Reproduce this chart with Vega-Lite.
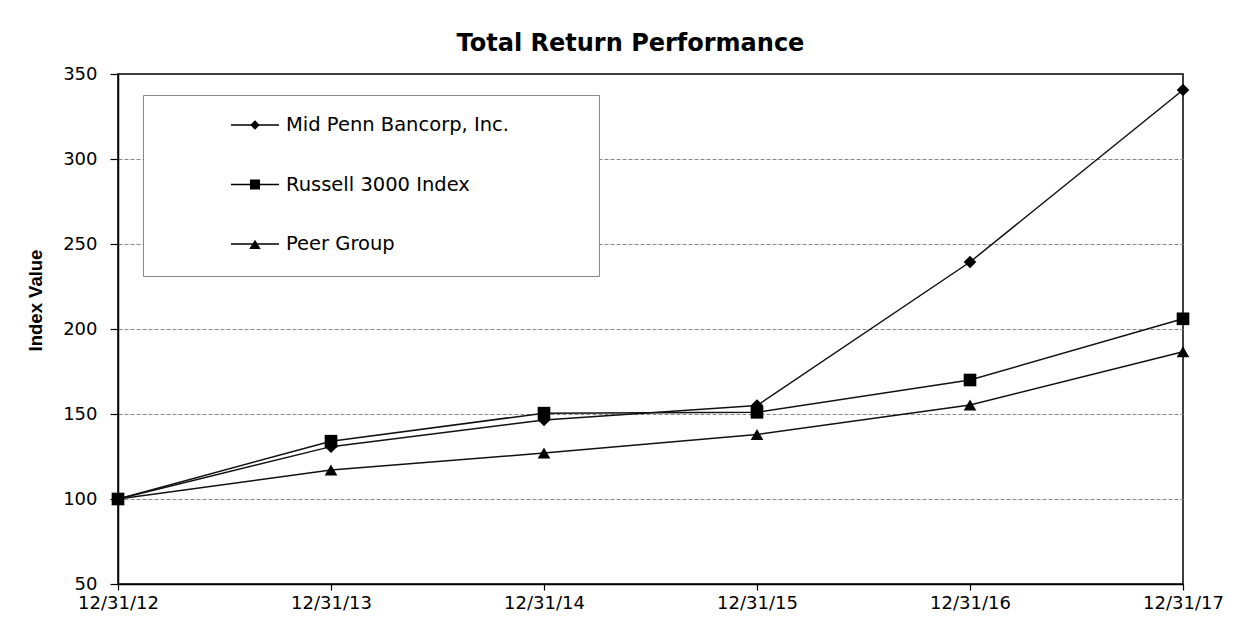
{
  "$schema": "https://vega.github.io/schema/vega-lite/v6.json",
  "autosize": "none",
  "width": 1065,
  "height": 510,
  "padding": {"left": 118, "top": 74, "right": 63, "bottom": 54},
  "background": "white",
  "title": {
    "text": "Total Return Performance",
    "font": "DejaVu Sans",
    "fontSize": 24,
    "fontWeight": "bold",
    "color": "#000",
    "anchor": "middle",
    "baseline": "alphabetic",
    "offset": 22,
    "dx": -20,
    "dy": 32
  },
  "config": {
    "view": {"stroke": "#000", "strokeWidth": 1.5},
    "axis": {"labelFont": "DejaVu Sans", "labelColor": "#000", "domainColor": "#000", "tickColor": "#000", "domainWidth": 1.5, "tickWidth": 1.2}
  },
  "data": {
    "values": [
      {"series": "Mid Penn Bancorp, Inc.", "date": "12/31/12", "value": 100},
      {"series": "Mid Penn Bancorp, Inc.", "date": "12/31/13", "value": 130.8},
      {"series": "Mid Penn Bancorp, Inc.", "date": "12/31/14", "value": 146.5},
      {"series": "Mid Penn Bancorp, Inc.", "date": "12/31/15", "value": 155},
      {"series": "Mid Penn Bancorp, Inc.", "date": "12/31/16", "value": 239.4},
      {"series": "Mid Penn Bancorp, Inc.", "date": "12/31/17", "value": 340.6},
      {"series": "Russell 3000 Index", "date": "12/31/12", "value": 100},
      {"series": "Russell 3000 Index", "date": "12/31/13", "value": 134},
      {"series": "Russell 3000 Index", "date": "12/31/14", "value": 150.5},
      {"series": "Russell 3000 Index", "date": "12/31/15", "value": 151},
      {"series": "Russell 3000 Index", "date": "12/31/16", "value": 170},
      {"series": "Russell 3000 Index", "date": "12/31/17", "value": 206},
      {"series": "Peer Group", "date": "12/31/12", "value": 100},
      {"series": "Peer Group", "date": "12/31/13", "value": 117},
      {"series": "Peer Group", "date": "12/31/14", "value": 127},
      {"series": "Peer Group", "date": "12/31/15", "value": 138},
      {"series": "Peer Group", "date": "12/31/16", "value": 155.3},
      {"series": "Peer Group", "date": "12/31/17", "value": 186.6}
    ]
  },
  "encoding": {
    "x": {
      "field": "date",
      "type": "ordinal",
      "scale": {"type": "point", "padding": 0},
      "axis": {"title": null, "labelAngle": 0, "labelFontSize": 18, "tickSize": 6, "labelPadding": 4, "grid": false}
    },
    "y": {
      "field": "value",
      "type": "quantitative",
      "scale": {"domain": [50, 350], "nice": false, "zero": false},
      "axis": {
        "values": [50, 100, 150, 200, 250, 300, 350],
        "title": "Index Value",
        "titleFont": "Liberation Sans",
        "titleFontSize": 18.5,
        "titleFontWeight": "bold",
        "titleColor": "#000",
        "titleX": -83,
        "titleY": 226,
        "titleAngle": 270,
        "titleAlign": "center",
        "titleBaseline": "middle",
        "labelFontSize": 18,
        "tickSize": 8,
        "labelPadding": 13,
        "grid": true,
        "gridColor": "#888",
        "gridDash": [4, 2],
        "gridWidth": 1,
        "gridOpacity": {"condition": {"test": "datum.value === 350 || datum.value === 50", "value": 0}, "value": 1}
      }
    }
  },
  "layer": [
    {
      "mark": {"type": "line", "color": "#111", "strokeWidth": 1.5},
      "encoding": {"detail": {"field": "series"}}
    },
    {
      "mark": {"type": "point", "filled": true, "color": "#000", "opacity": 1, "size": 160},
      "encoding": {
        "shape": {
          "field": "series",
          "scale": {"domain": ["Mid Penn Bancorp, Inc.", "Russell 3000 Index", "Peer Group"], "range": ["diamond", "square", "triangle-up"]},
          "legend": null
        }
      }
    },
    {
      "mark": {"type": "point", "filled": true, "color": "#000", "opacity": 0, "size": 10},
      "encoding": {
        "shape": {
          "field": "series",
          "scale": {
            "domain": ["Mid Penn Bancorp, Inc.", "Russell 3000 Index", "Peer Group"],
            "range": [
              "M0,-1M0,1M-1,-0.03H1V0.03H-1ZM-0.2,0L0,-0.2L0.2,0L0,0.2Z",
              "M0,-1M0,1M-1,-0.03H1V0.03H-1ZM-0.21,-0.21H0.21V0.21H-0.21Z",
              "M0,-1M0,1M-1,-0.03H1V0.03H-1ZM0,-0.18L0.24,0.21H-0.24Z"
            ]
          },
          "legend": {
            "orient": "none",
            "legendX": 25,
            "legendY": 21,
            "title": " ",
            "titleOrient": "right",
            "titlePadding": 85,
            "titleFontSize": 6,
            "padding": 5,
            "fillColor": "#fff",
            "strokeColor": "#888",
            "symbolSize": 2304,
            "symbolOffset": 82,
            "symbolOpacity": 1,
            "symbolFillColor": "#000",
            "symbolStrokeColor": "#000",
            "labelFont": "DejaVu Sans",
            "labelFontSize": 19.5,
            "labelColor": "#000",
            "labelOffset": 6,
            "labelLimit": 400,
            "rowPadding": 5.5
          }
        }
      }
    }
  ],
  "resolve": {"scale": {"shape": "independent"}, "legend": {"shape": "independent"}}
}
